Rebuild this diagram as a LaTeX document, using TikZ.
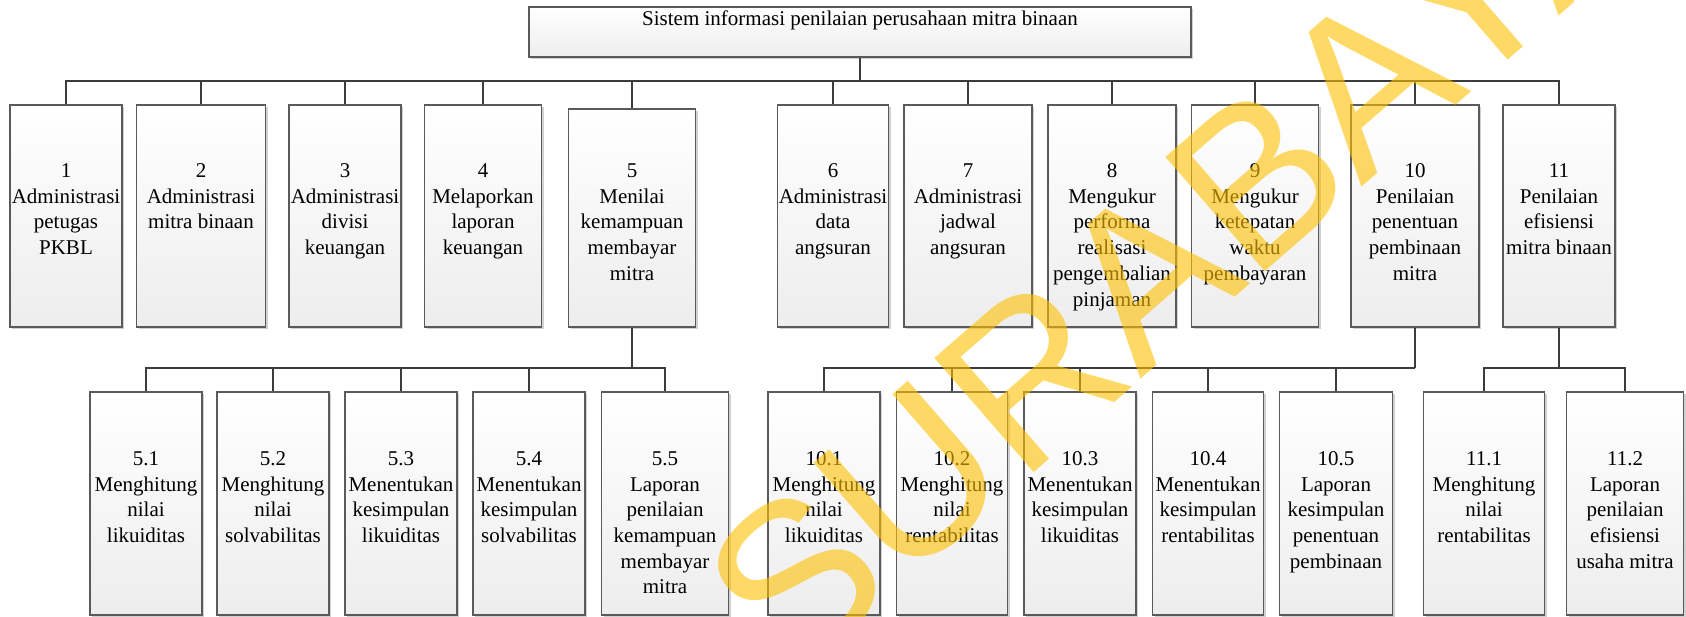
\documentclass[tikz,border=0pt]{standalone}
\usepackage{fontspec}
\setmainfont{Liberation Serif}
\newfontfamily\wmfont{Liberation Sans}
\usetikzlibrary{positioning,shadows}
\definecolor{frame}{HTML}{5A5A5A}
\definecolor{wire}{HTML}{3C3C3C}
\definecolor{stamp}{HTML}{FFC000}

\begin{document}
\begin{tikzpicture}[x=1pt,y=-1pt,
  box/.style={draw=frame, line width=1.2pt, top color=white, bottom color=black!7, inner sep=0pt,
    drop shadow={shadow xshift=2pt, shadow yshift=-2pt, fill=black!18, opacity=1}},
  lvl/.style={box, minimum height=222pt},
  sub/.style={box, minimum height=223pt},
  txt/.style={inner sep=0pt, align=center, font=\fontsize{21}{25.7}\selectfont},
  conn/.style={draw=wire, line width=1.8pt}
]
  \useasboundingbox (0,0) rectangle (1686,616);

  \node[box, minimum width=662pt, minimum height=50pt] (top) at (860,32) {};
  \node[txt, below=4pt of top.north] (ttl) {Sistem informasi penilaian perusahaan mitra binaan};

  \node[lvl, minimum width=112pt] (b1) at (66,216) {};
  \node[lvl, minimum width=129pt] (b2) at (201,216) {};
  \node[lvl, minimum width=112pt] (b3) at (345,216) {};
  \node[lvl, minimum width=117pt] (b4) at (483,216) {};
  \node[lvl, minimum width=127pt, minimum height=218pt] (b5) at (632,218) {};
  \node[lvl, minimum width=111pt] (b6) at (833,216) {};
  \node[lvl, minimum width=128pt] (b7) at (968,216) {};
  \node[lvl, minimum width=128pt] (b8) at (1112,216) {};
  \node[lvl, minimum width=127pt] (b9) at (1255,216) {};
  \node[lvl, minimum width=128pt] (b10) at (1415,216) {};
  \node[lvl, minimum width=112pt] (b11) at (1559,216) {};

  \node[txt, below=59pt of b1.north] (t1) {1\\Administrasi\\petugas\\PKBL};
  \node[txt, below=59pt of b2.north] (t2) {2\\Administrasi\\mitra binaan};
  \node[txt, below=59pt of b3.north] (t3) {3\\Administrasi\\divisi\\keuangan};
  \node[txt, below=59pt of b4.north] (t4) {4\\Melaporkan\\laporan\\keuangan};
  \node[txt, below=55pt of b5.north] (t5) {5\\Menilai\\kemampuan\\membayar\\mitra};
  \node[txt, below=59pt of b6.north] (t6) {6\\Administrasi\\data\\angsuran};
  \node[txt, below=59pt of b7.north] (t7) {7\\Administrasi\\jadwal\\angsuran};
  \node[txt, below=59pt of b8.north] (t8) {8\\Mengukur\\performa\\realisasi\\pengembalian\\pinjaman};
  \node[txt, below=59pt of b9.north] (t9) {9\\Mengukur\\ketepatan\\waktu\\pembayaran};
  \node[txt, below=59pt of b10.north] (t10) {10\\Penilaian\\penentuan\\pembinaan\\mitra};
  \node[txt, below=59pt of b11.north] (t11) {11\\Penilaian\\efisiensi\\mitra binaan};

  \node[sub, minimum width=112pt] (c51) at (146,503.5) {};
  \node[sub, minimum width=112pt] (c52) at (273,503.5) {};
  \node[sub, minimum width=112pt] (c53) at (401,503.5) {};
  \node[sub, minimum width=112pt] (c54) at (529,503.5) {};
  \node[sub, minimum width=127pt] (c55) at (665,503.5) {};
  \node[sub, minimum width=112pt] (c101) at (824,503.5) {};
  \node[sub, minimum width=111pt] (c102) at (952,503.5) {};
  \node[sub, minimum width=112pt] (c103) at (1080,503.5) {};
  \node[sub, minimum width=111pt] (c104) at (1208,503.5) {};
  \node[sub, minimum width=113pt] (c105) at (1336,503.5) {};
  \node[sub, minimum width=121pt] (c111) at (1484,503.5) {};
  \node[sub, minimum width=117pt] (c112) at (1625,503.5) {};

  \node[txt, below=60pt of c51.north] (s51) {5.1\\Menghitung\\nilai\\likuiditas};
  \node[txt, below=60pt of c52.north] (s52) {5.2\\Menghitung\\nilai\\solvabilitas};
  \node[txt, below=60pt of c53.north] (s53) {5.3\\Menentukan\\kesimpulan\\likuiditas};
  \node[txt, below=60pt of c54.north] (s54) {5.4\\Menentukan\\kesimpulan\\solvabilitas};
  \node[txt, below=60pt of c55.north] (s55) {5.5\\Laporan\\penilaian\\kemampuan\\membayar\\mitra};
  \node[txt, below=60pt of c101.north] (s101) {10.1\\Menghitung\\nilai\\likuiditas};
  \node[txt, below=60pt of c102.north] (s102) {10.2\\Menghitung\\nilai\\rentabilitas};
  \node[txt, below=60pt of c103.north] (s103) {10.3\\Menentukan\\kesimpulan\\likuiditas};
  \node[txt, below=60pt of c104.north] (s104) {10.4\\Menentukan\\kesimpulan\\rentabilitas};
  \node[txt, below=60pt of c105.north] (s105) {10.5\\Laporan\\kesimpulan\\penentuan\\pembinaan};
  \node[txt, below=60pt of c111.north] (s111) {11.1\\Menghitung\\nilai\\rentabilitas};
  \node[txt, below=60pt of c112.north] (s112) {11.2\\Laporan\\penilaian\\efisiensi\\usaha mitra};

  \coordinate (bus) at (860,81);
  \coordinate (bus5) at (632,368);
  \coordinate (bus10) at (1415,368);
  \coordinate (bus11) at (1559,368);

  \draw[conn] (top.south) -- (bus);
  \foreach \n in {b1,b2,b3,b4,b5,b6,b7,b8,b9,b10,b11}
    \draw[conn] (\n.north) |- (bus);
  \draw[conn] (b5.south) -- (bus5);
  \foreach \n in {c51,c52,c53,c54,c55}
    \draw[conn] (\n.north) |- (bus5);
  \draw[conn] (b10.south) -- (bus10);
  \foreach \n in {c101,c102,c103,c104,c105}
    \draw[conn] (\n.north) |- (bus10);
  \draw[conn] (b11.south) -- (bus11);
  \foreach \n in {c111,c112}
    \draw[conn] (\n.north) |- (bus11);

  \node[rotate=41, text=stamp, text opacity=0.6, inner sep=0pt,
    font=\wmfont\fontsize{220}{220}\selectfont] (wm) at (1180,245) {SURABAYA};
\end{tikzpicture}
\end{document}
